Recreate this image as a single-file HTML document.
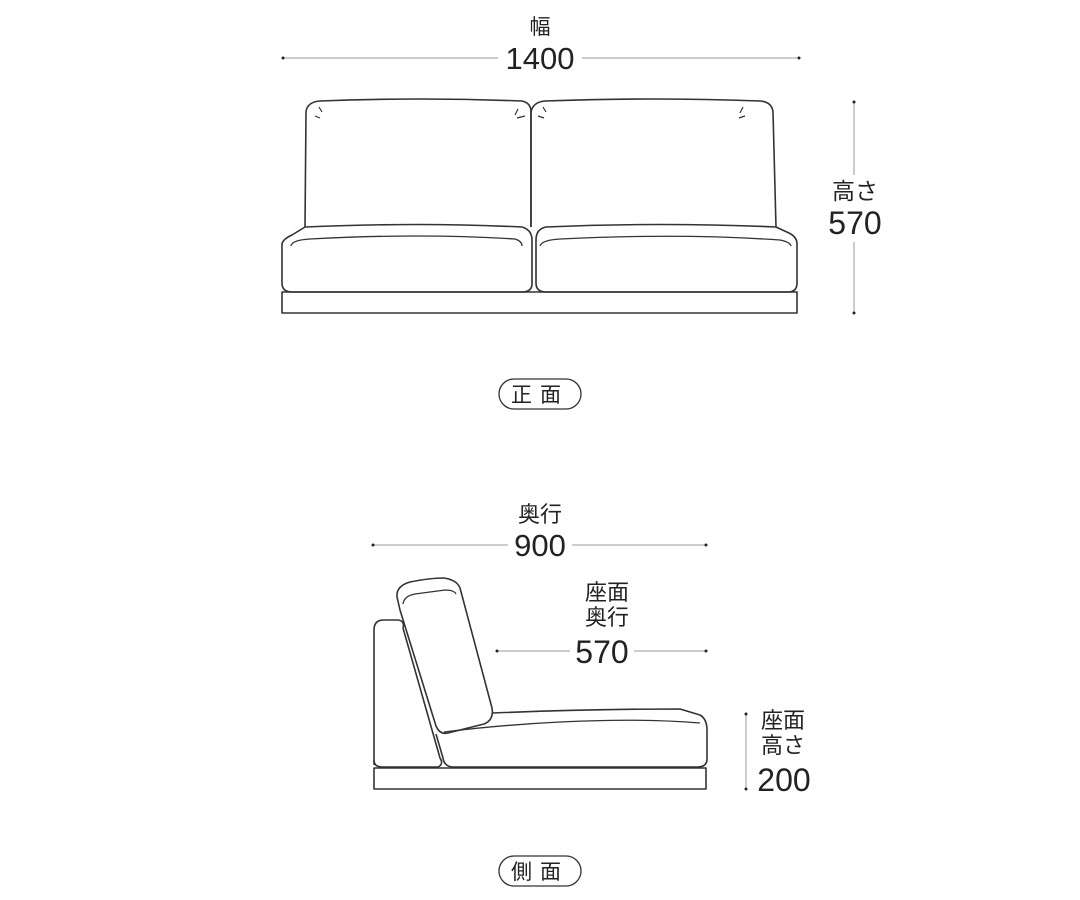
<!DOCTYPE html>
<html><head><meta charset="utf-8"><style>
html,body{margin:0;padding:0;background:#fff;}
svg{display:block}
text{font-family:"Liberation Sans","Noto Sans CJK JP",sans-serif;fill:#222;text-anchor:middle}
</style></head><body>
<svg width="1080" height="900" viewBox="0 0 1080 900" xmlns="http://www.w3.org/2000/svg">
<g fill="none" stroke="#333" stroke-width="1.6" stroke-linejoin="round">
<path d="M305,227 L306,112 Q307,102 320,101 Q420,97 522,101 Q531,103 531,112 L531,227"/>
<path d="M531,227 L531,112 Q533,102 545,101 Q650,97 760,101 Q772,102 773,112 L776,227"/>
<path d="M305,227 Q420,222 522,227 Q532,230 532,240 L532,285 Q531,292 522,292 L292,292 Q282,292 282,283 L282,244 Q283,239 292,235 Z"/>
<path d="M536,240 Q536,229 546,227 Q660,222 776,227 L789,233 Q797,237 797,244 L797,283 Q797,292 788,292 L546,292 Q536,292 536,283 Z"/>
<path d="M291,246 Q292,240 310,239 Q420,233 515,239 Q522,241 522,246" stroke-width="1.3"/>
<path d="M540,246 Q542,240 560,239 Q680,233 780,240 Q790,242 791,246" stroke-width="1.3"/>
<rect x="282" y="292" width="515" height="21"/>
<g stroke-width="1.2">
<path d="M315,116 L320,118 M319,107 L322,112 M518,109 L515,115 M517,118 L525,116"/>
<path d="M538,116 L544,118 M543,107 L546,112 M743,107 L740,113 M745,116 L739,118"/>
</g>
<path d="M374,765 L374,630 Q374,620 384,620 L398,620 Q405,621 403,628"/>
<path d="M374,760 Q374,767 382,767 L438,767 Q444,764 440,758 L403,628"/>
<path d="M397,597 Q396,586 410,582 Q430,578 444,578 Q457,580 460,588 L492,708 Q494,720 484,724 L448,733 Q440,735 436,726 L400,610 Z"/>
<path d="M403,604 Q404,596 415,594 L445,590 Q454,590 456,594" stroke-width="1.3"/>
<path d="M493,713 Q590,709 680,709 L700,715 Q707,719 707,730 L707,760 Q706,767 698,767 L452,767 Q444,766 443,758 L436,734"/>
<path d="M444,732 Q500,725 560,722 Q640,718 700,723" stroke-width="1.3"/>
<rect x="374" y="768" width="332" height="21"/>
</g>
<g stroke="#999" stroke-width="1">
<line x1="283" y1="58" x2="498" y2="58"/><line x1="582" y1="58" x2="799" y2="58"/>
<line x1="854" y1="102" x2="854" y2="175"/><line x1="854" y1="242" x2="854" y2="313"/>
<line x1="373" y1="545" x2="508" y2="545"/><line x1="572" y1="545" x2="706" y2="545"/>
<line x1="497" y1="651" x2="570" y2="651"/><line x1="634" y1="651" x2="706" y2="651"/>
<line x1="746" y1="714" x2="746" y2="789"/>
</g>
<g fill="#222">
<circle cx="283" cy="58" r="1.5"/><circle cx="799" cy="58" r="1.5"/>
<circle cx="854" cy="102" r="1.5"/><circle cx="854" cy="313" r="1.5"/>
<circle cx="373" cy="545" r="1.5"/><circle cx="706" cy="545" r="1.5"/>
<circle cx="497" cy="651" r="1.5"/><circle cx="706" cy="651" r="1.5"/>
<circle cx="746" cy="714" r="1.5"/><circle cx="746" cy="789" r="1.5"/>
</g>
<text x="540" y="34" font-size="21">幅</text>
<text x="540" y="69" font-size="31">1400</text>
<text x="855" y="199" font-size="23">高さ</text>
<text x="855" y="234" font-size="32">570</text>
<text x="540" y="522" font-size="22">奥行</text>
<text x="540" y="556" font-size="31">900</text>
<text x="607" y="600" font-size="22">座面</text>
<text x="607" y="625" font-size="22">奥行</text>
<text x="602" y="663" font-size="32">570</text>
<text x="783" y="728" font-size="22">座面</text>
<text x="783" y="753" font-size="22">高さ</text>
<text x="784" y="791" font-size="32">200</text>
<rect x="499" y="379" width="82" height="30" rx="15" fill="none" stroke="#333" stroke-width="1.3"/>
<text x="540" y="402" font-size="21" letter-spacing="8">正面</text>
<rect x="499" y="856" width="82" height="30" rx="15" fill="none" stroke="#333" stroke-width="1.3"/>
<text x="540" y="879" font-size="21" letter-spacing="8">側面</text>
</svg>
</body></html>
